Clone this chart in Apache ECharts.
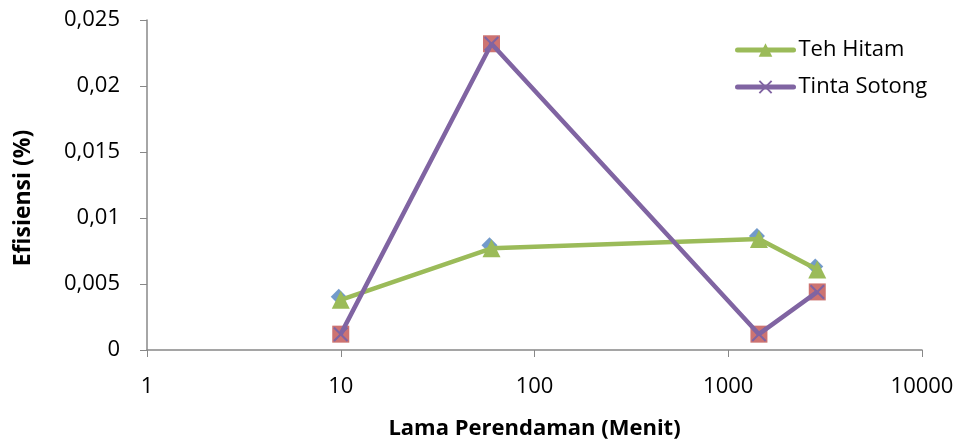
<!DOCTYPE html>
<html><head><meta charset="utf-8">
<script src="https://cdn.jsdelivr.net/npm/echarts@6/dist/echarts.min.js"></script>
<style>html,body{margin:0;padding:0;background:#fff}#c{width:960px;height:445px}</style>
</head><body><div id="c"></div>
<script>
const minutes = [10, 60, 1440, 2880];
const tehHitam = [0.0038, 0.0077, 0.0084, 0.0061];
const tintaSotong = [0.0012, 0.0232, 0.0012, 0.0044];
const seriesNames = ['Teh Hitam', 'Tinta Sotong'];
const xTitle = 'Lama Perendaman (Menit)';
const yTitle = 'Efisiensi (%)';

const pair = arr => minutes.map((m, i) => [m, arr[i]]);
const crossPath = 'path://M0,1L1,0L5,4L9,0L10,1L6,5L10,9L9,10L5,6L1,10L0,9L4,5Z';
const font = '"Open Sans", "Liberation Sans", sans-serif';

const chart = echarts.init(document.getElementById('c'));
chart.setOption({
  animation: false,
  grid: { left: 147, right: 38, top: 20, bottom: 92 },
  legend: {
    data: seriesNames, orient: 'vertical', left: 730, top: 34,
    itemWidth: 56, itemHeight: 17, itemGap: 15,
    lineStyle: { width: 5, cap: 'round' },
    textStyle: { fontFamily: font, fontSize: 22, color: '#000' }
  },
  xAxis: {
    type: 'log', logBase: 10, min: 1, max: 10000,
    name: xTitle, nameLocation: 'middle', nameGap: 68,
    nameTextStyle: { fontFamily: font, fontSize: 22, fontWeight: 'bold', color: '#000' },
    axisLine: { lineStyle: { color: '#888', width: 1.5 } },
    axisTick: { show: true, length: 7, lineStyle: { color: '#888' } },
    minorTick: { show: false },
    splitLine: { show: false },
    axisLabel: { fontFamily: font, fontSize: 22, color: '#000', margin: 26, formatter: v => String(Math.round(v)) }
  },
  yAxis: {
    type: 'value', min: 0, max: 0.025, interval: 0.005,
    name: yTitle, nameLocation: 'middle', nameGap: 112, nameRotate: 90,
    nameTextStyle: { fontFamily: font, fontSize: 23, fontWeight: 'bold', color: '#000', padding: [0, 26, 0, 0] },
    axisLine: { show: true, lineStyle: { color: '#888', width: 1.5 } },
    axisTick: { show: true, length: 7, lineStyle: { color: '#888' } },
    splitLine: { show: false },
    axisLabel: { fontFamily: font, fontSize: 22, color: '#000', margin: 27,
      formatter: v => v === 0 ? '0' : String(+v.toFixed(3)).replace('.', ',') }
  },
  series: [
    { name: 'bg1', type: 'scatter', data: pair(tehHitam), symbol: 'diamond', symbolSize: [16, 16],
      symbolOffset: [-2, -3], itemStyle: { color: '#4F81BD' }, silent: true, z: 1 },
    { name: 'bg2', type: 'scatter', data: pair(tintaSotong), symbol: 'rect', symbolSize: 17,
      itemStyle: { color: '#C0504D' }, silent: true, z: 1 },
    { name: seriesNames[0], type: 'line', data: pair(tehHitam), symbol: 'triangle', symbolSize: 18,
      showAllSymbol: true, lineStyle: { color: '#9BBB59', width: 4.5 },
      itemStyle: { color: '#9BBB59' }, z: 2 },
    { name: seriesNames[1], type: 'line', data: pair(tintaSotong), symbol: crossPath, symbolSize: 15,
      showAllSymbol: true, lineStyle: { color: '#8064A2', width: 4.5 },
      itemStyle: { color: '#8064A2' }, z: 3 }
  ]
});
</script></body></html>
